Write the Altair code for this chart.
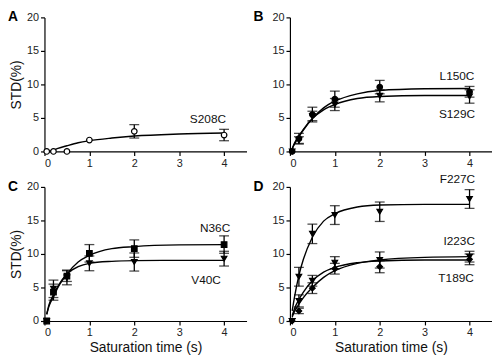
import altair as alt
import pandas as pd

FONT = "Liberation Sans"

# ---- data ----
time = [0.05, 0.2, 0.5, 1, 2, 4]
fit_t = [0.05, 0.1, 0.2, 0.3, 0.5, 0.75, 1, 1.5, 2, 3, 4]

names = ["S208C", "L150C", "S129C", "N36C", "V40C", "F227C", "I223C", "T189C"]
panel_of = ["A", "B", "B", "C", "C", "D", "D", "D"]
shapes = ["circle", "circle", "triangle-down", "square", "triangle-down",
          "triangle-down", "triangle-down", "diamond"]
fills = ["white", "black", "black", "black", "black", "black", "black", "black"]

s208c_y = [0, 0, 0, 1.7, 3.0, 2.45]
s208c_err = [0, 0, 0, 0, 1.0, 0.85]
l150c_y = [0, 1.9, 5.5, 7.8, 9.6, 8.9]
l150c_err = [0, 0.8, 1.1, 1.2, 1.0, 0.8]
s129c_y = [0, 1.7, 5.3, 7.0, 8.3, 8.2]
s129c_err = [0, 0.5, 0.7, 0.9, 0.9, 1.0]
n36c_y = [0, 4.3, 6.7, 10.1, 10.8, 11.4]
n36c_err = [0, 1.2, 0.8, 1.3, 1.3, 1.3]
v40c_y = [0, 4.8, 6.5, 8.6, 8.8, 9.3]
v40c_err = [0, 1.3, 1.1, 1.1, 1.35, 1.1]
f227c_y = [0, 6.6, 13.0, 15.8, 16.3, 18.2]
f227c_err = [0, 1.4, 1.45, 1.4, 1.45, 1.4]
i223c_y = [0, 3.0, 6.0, 8.7, 9.1, 9.6]
i223c_err = [0, 0.9, 0.8, 0.9, 1.2, 0.8]
t189c_y = [0, 1.5, 4.9, 7.8, 8.1, 9.2]
t189c_err = [0, 0.4, 0.8, 0.8, 0.9, 0.8]

s208c_fit = [0, 0.05, 0.2, 0.45, 0.85, 1.3, 1.6, 2.0, 2.3, 2.6, 2.75]
l150c_fit = [0.4, 1.1, 2.2, 3.2, 4.9, 6.5, 7.5, 8.6, 9.1, 9.35, 9.4]
s129c_fit = [0.4, 1.2, 2.3, 3.3, 4.9, 6.2, 7.0, 7.9, 8.2, 8.35, 8.35]
n36c_fit = [1.0, 2.2, 3.6, 5.0, 7.0, 8.8, 9.8, 10.8, 11.1, 11.35, 11.4]
v40c_fit = [1.0, 2.4, 3.9, 5.2, 7.0, 8.1, 8.6, 8.9, 9.0, 9.05, 9.05]
f227c_fit = [1.5, 3.5, 6.8, 9.2, 12.5, 14.9, 16.0, 17.0, 17.3, 17.4, 17.4]
i223c_fit = [0.8, 1.8, 3.2, 4.3, 6.0, 7.3, 8.0, 8.7, 8.95, 9.1, 9.1]
t189c_fit = [0.6, 1.4, 2.5, 3.5, 5.0, 6.5, 7.5, 8.6, 9.1, 9.5, 9.6]

label_x = [3.64, 3.72, 3.72, 3.8, 3.6, 3.73, 3.77, 3.7]
label_y = [4.8, 11.2, 5.6, 13.9, 6.1, 21.2, 11.9, 6.4]

ys = [s208c_y, l150c_y, s129c_y, n36c_y, v40c_y, f227c_y, i223c_y, t189c_y]
errs = [s208c_err, l150c_err, s129c_err, n36c_err, v40c_err, f227c_err, i223c_err, t189c_err]
fits = [s208c_fit, l150c_fit, s129c_fit, n36c_fit, v40c_fit, f227c_fit, i223c_fit, t189c_fit]

pts_rows, fit_rows, lab_rows = [], [], []
for i, n in enumerate(names):
    for t, v, e in zip(time, ys[i], errs[i]):
        pts_rows.append({"panel": panel_of[i], "series": n, "t": t, "v": v,
                         "lo": v - e, "hi": v + e, "e": e})
    for t, v in zip(fit_t, fits[i]):
        fit_rows.append({"panel": panel_of[i], "series": n, "t": t, "v": v})
    lab_rows.append({"panel": panel_of[i], "series": n, "t": label_x[i], "v": label_y[i]})

pts = pd.DataFrame(pts_rows)
fit = pd.DataFrame(fit_rows)
labs = pd.DataFrame(lab_rows)

W, H = 205, 136


def panel(letter, show_xt, show_yt):
    xs = alt.Scale(domain=[0, 4.5], nice=False)
    ysc = alt.Scale(domain=[0, 20], nice=False)
    xax = alt.Axis(values=[0, 1, 2, 3, 4], title="Saturation time (s)" if show_xt else None,
                   labelOverlap=False)
    yax = alt.Axis(values=[0, 5, 10, 15, 20], title="STD(%)" if show_yt else None,
                   labelOverlap=False)

    def X(f="t"):
        return alt.X(f"{f}:Q", scale=xs, axis=xax)

    def Y(f):
        return alt.Y(f"{f}:Q", scale=ysc, axis=yax)

    p = pts[pts.panel == letter]
    pe = p[p.e > 0]
    f = fit[fit.panel == letter]
    lb = labs[labs.panel == letter]

    lines = alt.Chart(f).mark_line(color="black", strokeWidth=1.4,
                                   interpolate="monotone").encode(
        x=X(), y=Y("v"), detail="series:N")
    rules = alt.Chart(pe).mark_rule(color="black", strokeWidth=1.3).encode(
        x=X(), y=Y("lo"), y2="hi:Q")
    cap_lo = alt.Chart(pe).mark_tick(color="black", orient="horizontal",
                                     size=10, thickness=1.3).encode(
        x=X(), y=Y("lo"))
    cap_hi = alt.Chart(pe).mark_tick(color="black", orient="horizontal",
                                     size=10, thickness=1.3).encode(
        x=X(), y=Y("hi"))
    points = alt.Chart(p).mark_point(stroke="black", strokeWidth=1.2, size=32,
                                     opacity=1, fillOpacity=1).encode(
        x=X(), y=Y("v"),
        shape=alt.Shape("series:N", scale=alt.Scale(domain=names, range=shapes), legend=None),
        fill=alt.Fill("series:N", scale=alt.Scale(domain=names, range=fills), legend=None))
    texts = alt.Chart(lb).mark_text(font=FONT, fontSize=12, color="#111").encode(
        x=X(), y=Y("v"), text="series:N")
    let = alt.Chart(pd.DataFrame({"L": [letter]})).mark_text(
        font=FONT, fontSize=14, fontWeight="bold", align="left", color="black").encode(
        x=alt.value(-37), y=alt.value(0), text="L:N")
    return alt.layer(lines, rules, cap_lo, cap_hi, points, texts, let).properties(
        width=W, height=H)


top = alt.hconcat(panel("A", False, True), panel("B", False, False), spacing=7)
bot = alt.hconcat(panel("C", True, True), panel("D", True, False), spacing=7)

chart = alt.vconcat(top, bot, spacing=4).properties(
    padding={"left": 0, "top": 0, "right": 0, "bottom": 0}
).configure_view(stroke=None).configure_axis(
    domainColor="black", tickColor="black", labelColor="#222",
    labelFont=FONT, labelFontSize=11, titleFont=FONT, titleFontSize=14,
    titleFontWeight="normal", titleColor="#111", tickSize=4, labelPadding=2,
    titlePadding=3, grid=False, domainWidth=1.2, tickWidth=1.2
)

chart.save("out.html", embed_options={"renderer": "svg", "actions": False})
